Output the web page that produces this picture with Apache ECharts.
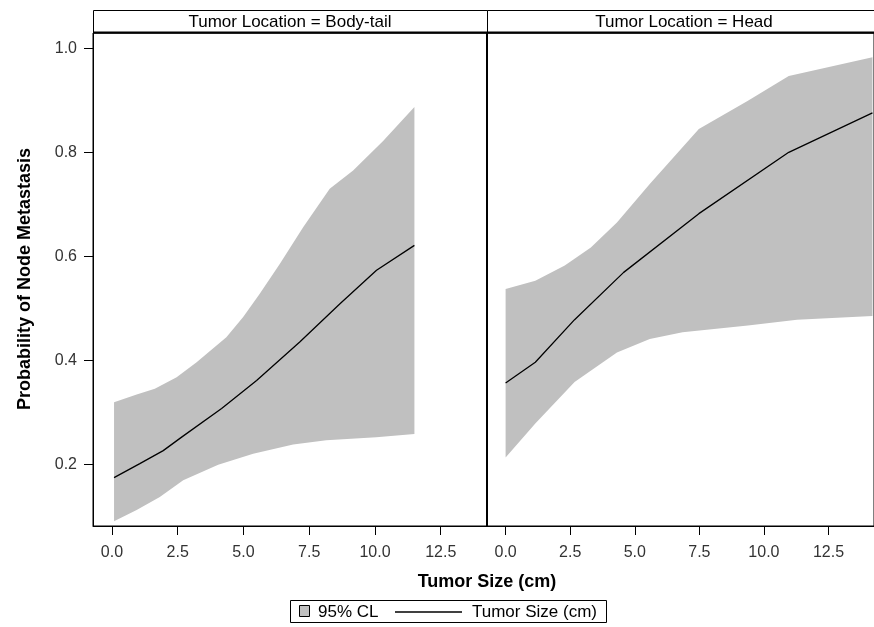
<!DOCTYPE html>
<html>
<head>
    <meta charset="utf-8">
    <title>Tumor Size vs Node Metastasis</title>
    <script src="https://cdn.jsdelivr.net/npm/echarts@6/dist/echarts.min.js"></script>
    <style>
        html, body { margin: 0; padding: 0; background: #fff; }
        #chart { width: 874px; height: 627px; }
    </style>
</head>
<body>
<div id="chart"></div>
<script>
    // panel labels and tick values
    var panels = ['Tumor Location = Body-tail', 'Tumor Location = Head'];
    var xTicks = [0, 2.5, 5, 7.5, 10, 12.5];
    var yTicks = [0.2, 0.4, 0.6, 0.8, 1.0];

    // Body-tail: [size, probability]
    var bodyFit = [[0.08, 0.174], [1.06, 0.201], [1.95, 0.226], [2.65, 0.252], [4.17, 0.307],
        [5.50, 0.361], [7.14, 0.435], [8.66, 0.508], [10.06, 0.573], [11.5, 0.621]];
    var bodyUpper = [[0.08, 0.319], [0.94, 0.334], [1.63, 0.345], [2.46, 0.367], [3.22, 0.396],
        [4.35, 0.444], [4.99, 0.483], [5.62, 0.528], [6.38, 0.585], [7.27, 0.656],
        [8.28, 0.730], [9.17, 0.765], [10.31, 0.822], [11.5, 0.887]];
    var bodyLower = [[0.08, 0.090], [0.94, 0.112], [1.82, 0.137], [2.71, 0.169], [4.04, 0.199],
        [5.37, 0.220], [6.89, 0.238], [8.15, 0.246], [10.05, 0.252], [11.5, 0.258]];

    // Head: [size, probability]
    var headFit = [[0, 0.356], [1.15, 0.396], [2.67, 0.478], [4.57, 0.569], [7.48, 0.682],
        [10.96, 0.800], [14.2, 0.876]];
    var headUpper = [[0, 0.537], [1.15, 0.553], [2.29, 0.582], [3.30, 0.617], [4.31, 0.665],
        [5.58, 0.739], [7.48, 0.845], [9.38, 0.899], [10.96, 0.947], [14.2, 0.983]];
    var headLower = [[0, 0.213], [1.15, 0.278], [2.67, 0.358], [4.31, 0.415], [5.58, 0.441],
        [6.85, 0.454], [9.38, 0.467], [11.28, 0.478], [14.2, 0.485]];

    var font = "'Liberation Sans', Arial, sans-serif";
    var chart = echarts.init(document.getElementById('chart'), null, {renderer: 'canvas'});

    function bandSeries(idx, upper, lower) {
        return {
            name: '95% CL',
            type: 'custom',
            xAxisIndex: idx,
            yAxisIndex: idx,
            data: [[upper[0][0], upper[0][1]]],
            z: 1,
            silent: true,
            renderItem: function (params, api) {
                var pts = upper.map(function (p) { return api.coord(p); })
                    .concat(lower.slice().reverse().map(function (p) { return api.coord(p); }));
                return {
                    type: 'polygon',
                    shape: {points: pts},
                    style: {fill: '#c0c0c0'}
                };
            }
        };
    }

    function fitSeries(idx, data) {
        return {
            name: 'Tumor Size (cm)',
            type: 'line',
            xAxisIndex: idx,
            yAxisIndex: idx,
            data: data,
            showSymbol: false,
            z: 3,
            silent: true,
            lineStyle: {color: '#000', width: 1.3}
        };
    }

    function xAxisFor(idx) {
        return {
            type: 'value',
            gridIndex: idx,
            min: -0.72,
            max: 14.26,
            axisLine: {show: true, onZero: false, lineStyle: {color: '#000', width: 1}},
            axisTick: {show: true, customValues: xTicks, length: 9, lineStyle: {color: '#000'}},
            axisLabel: {
                customValues: xTicks, margin: 19, color: '#333',
                fontFamily: font, fontSize: 16,
                formatter: function (v) { return v.toFixed(1); }
            },
            splitLine: {show: false}
        };
    }

    function yAxisFor(idx) {
        return {
            type: 'value',
            gridIndex: idx,
            min: 0.081,
            max: 1.0296,
            axisLine: {show: true, onZero: false, lineStyle: {color: '#000', width: idx === 0 ? 1 : 2}},
            axisTick: {show: idx === 0, customValues: yTicks, length: 9, lineStyle: {color: '#000'}},
            axisLabel: {
                show: idx === 0, customValues: yTicks, margin: 16, color: '#333',
                fontFamily: font, fontSize: 16,
                formatter: function (v) { return v.toFixed(1); }
            },
            splitLine: {show: false}
        };
    }

    var option = {
        backgroundColor: '#fff',
        animation: false,
        grid: [
            {left: 93, top: 33, width: 394, height: 493, show: true, borderColor: '#000', borderWidth: 1},
            {left: 487, top: 33, width: 394, height: 493, show: true, borderColor: '#000', borderWidth: 1}
        ],
        xAxis: [xAxisFor(0), xAxisFor(1)],
        yAxis: [yAxisFor(0), yAxisFor(1)],
        series: [
            bandSeries(0, bodyUpper, bodyLower),
            fitSeries(0, bodyFit),
            bandSeries(1, headUpper, headLower),
            fitSeries(1, headFit)
        ],
        graphic: [
            // panel header strips
            {type: 'rect', shape: {x: 93.5, y: 10.5, width: 394, height: 22.5},
                style: {fill: '#fff', stroke: '#000', lineWidth: 1}},
            {type: 'rect', shape: {x: 487.5, y: 10.5, width: 394, height: 22.5},
                style: {fill: '#fff', stroke: '#000', lineWidth: 1}},
            {type: 'line', shape: {x1: 93, y1: 32.5, x2: 874, y2: 32.5},
                style: {stroke: '#000', lineWidth: 2}},
            {type: 'text', x: 290, y: 22, style: {text: panels[0], font: '17px ' + font,
                fill: '#000', align: 'center', verticalAlign: 'middle'}},
            {type: 'text', x: 684, y: 22, style: {text: panels[1], font: '17px ' + font,
                fill: '#000', align: 'center', verticalAlign: 'middle'}},
            // axis titles
            {type: 'text', x: 487, y: 582, style: {text: 'Tumor Size (cm)', font: 'bold 18px ' + font,
                fill: '#000', align: 'center', verticalAlign: 'middle'}},
            {type: 'text', x: 25, y: 279, rotation: Math.PI / 2,
                style: {text: 'Probability of Node Metastasis', font: 'bold 18px ' + font,
                    fill: '#000', align: 'center', verticalAlign: 'middle'}},
            // legend
            {type: 'rect', shape: {x: 290.5, y: 600.5, width: 316, height: 22},
                style: {fill: '#fff', stroke: '#000', lineWidth: 1}},
            {type: 'rect', shape: {x: 299.5, y: 605.5, width: 10, height: 11},
                style: {fill: '#c0c0c0', stroke: '#000', lineWidth: 1}},
            {type: 'text', x: 318, y: 612, style: {text: '95% CL', font: '17px ' + font,
                fill: '#000', verticalAlign: 'middle'}},
            {type: 'line', shape: {x1: 395, y1: 612, x2: 462, y2: 612},
                style: {stroke: '#000', lineWidth: 1.3}},
            {type: 'text', x: 472, y: 612, style: {text: 'Tumor Size (cm)', font: '17px ' + font,
                fill: '#000', verticalAlign: 'middle'}}
        ]
    };

    chart.setOption(option);
</script>
</body>
</html>
